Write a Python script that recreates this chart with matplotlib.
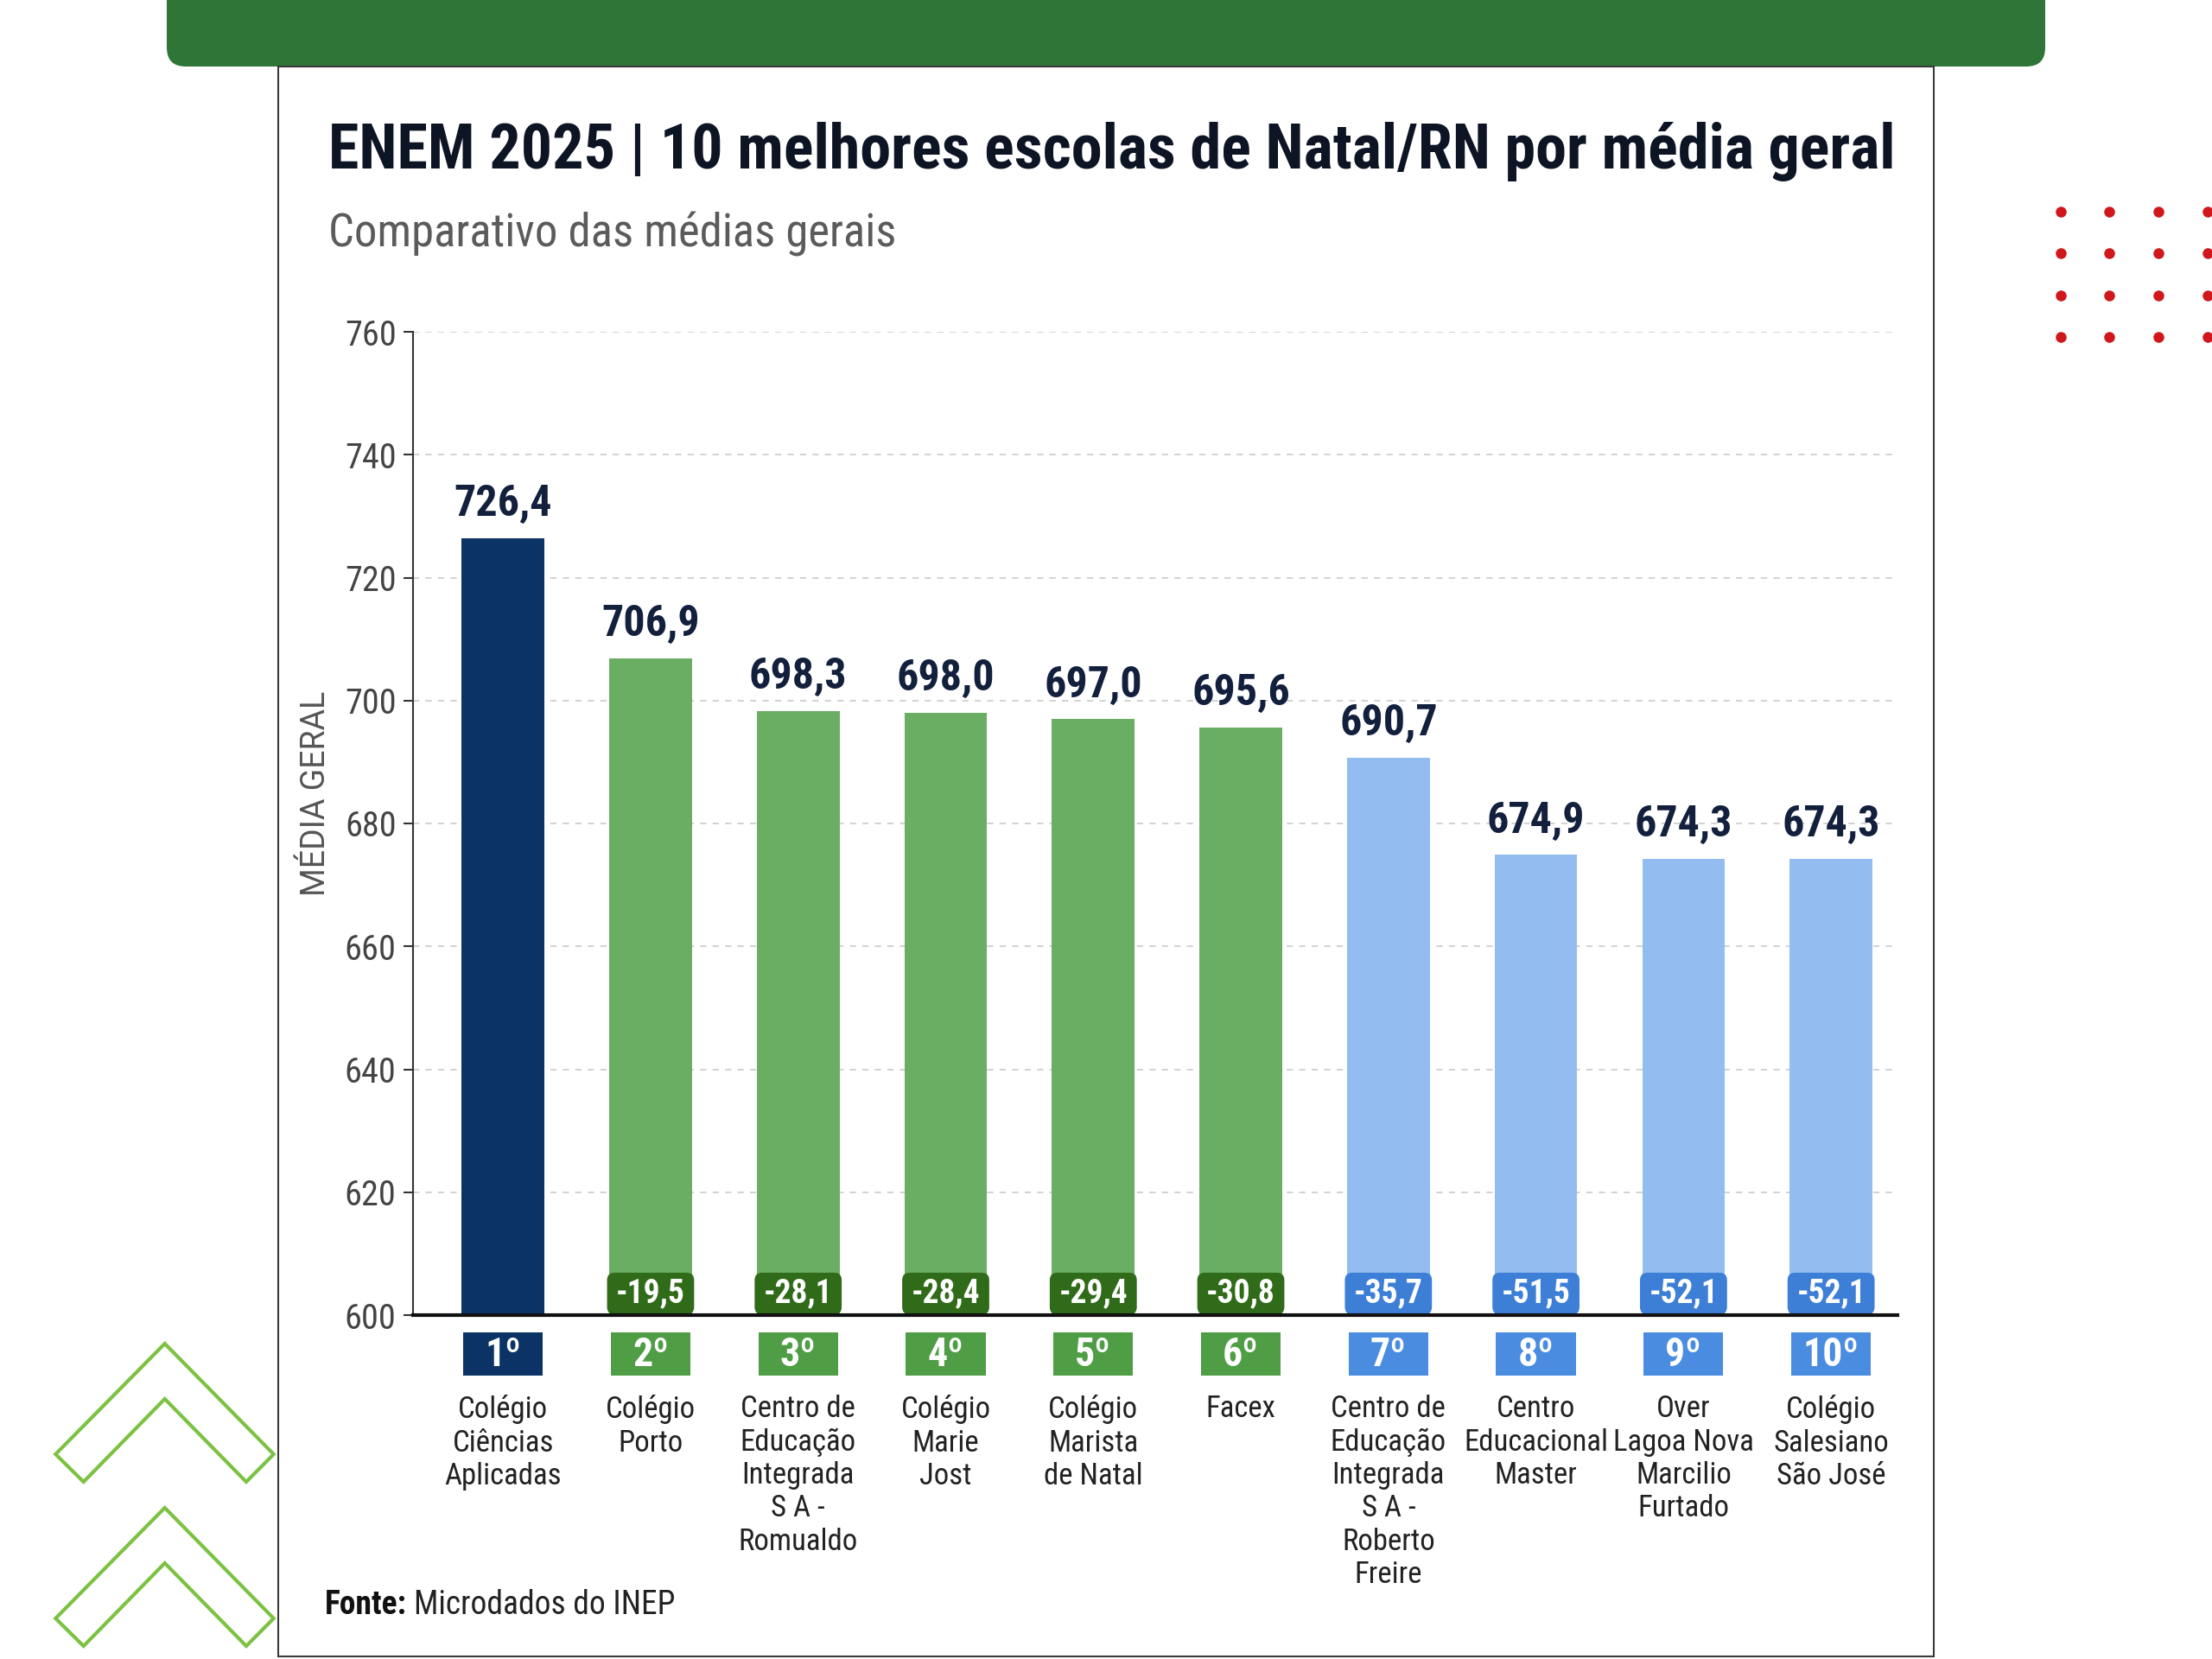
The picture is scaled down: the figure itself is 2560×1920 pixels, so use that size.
# ENEM 2025 - top 10 schools in Natal/RN
import matplotlib
matplotlib.use('Agg')
import matplotlib.pyplot as plt
from matplotlib import font_manager as fm
from matplotlib.patches import FancyBboxPatch, Rectangle, Polygon

escolas = ['Colégio\nCiências\nAplicadas', 'Colégio\nPorto',
           'Centro de\nEducação\nIntegrada\nS A -\nRomualdo',
           'Colégio\nMarie\nJost', 'Colégio\nMarista\nde Natal', 'Facex',
           'Centro de\nEducação\nIntegrada\nS A -\nRoberto\nFreire',
           'Centro\nEducacional\nMaster', 'Over\nLagoa Nova\nMarcilio\nFurtado',
           'Colégio\nSalesiano\nSão José']
medias = [726.4, 706.9, 698.3, 698.0, 697.0, 695.6, 690.7, 674.9, 674.3, 674.3]
diferencas = [None, -19.5, -28.1, -28.4, -29.4, -30.8, -35.7, -51.5, -52.1, -52.1]
grupos = ['top', 'verde', 'verde', 'verde', 'verde', 'verde', 'azul', 'azul', 'azul', 'azul']
y_ticks = [600, 620, 640, 660, 680, 700, 720, 740, 760]

cor_barra = {'top': '#0b3366', 'verde': '#6aae64', 'azul': '#93bdf0'}
cor_rank = {'top': '#0b3366', 'verde': '#4f9d45', 'azul': '#4a8de0'}
cor_badge = {'verde': '#2f6b18', 'azul': '#3d7fd6'}


def pick(*names):
    for n in names:
        try:
            fm.findfont(fm.FontProperties(family=n), fallback_to_default=False)
            return n
        except Exception:
            pass
    return 'DejaVu Sans'


NARROW = pick('Liberation Sans Narrow', 'Roboto Condensed', 'Arial Narrow', 'Liberation Sans')
PLAIN = pick('Roboto', 'Liberation Sans', 'DejaVu Sans')

W, H = 2560, 1920
fig = plt.figure(figsize=(25.6, 19.2), dpi=100)
fig.patch.set_facecolor('white')

# decoration layer in pixel coords
bg = fig.add_axes([0, 0, 1, 1], zorder=0)
bg.set_xlim(0, W)
bg.set_ylim(H, 0)
bg.axis('off')
bg.add_patch(FancyBboxPatch((193, -40), 2174, 117, boxstyle='round,pad=0,rounding_size=22',
                            fc='#2f7537', ec='none'))
bg.add_patch(Rectangle((322, 77), 1916, 1840, fc='white', ec='#3a3a3a', lw=1.5))
for xd in [2385, 2441, 2498, 2555]:
    for yd in [245, 293, 342, 390]:
        bg.plot(xd, yd, 'o', color='#d0171c', ms=9, mec='none')
for dy in [0, 190]:
    pts = [(190.7, 1555 + dy), (316.7, 1683 + dy), (285, 1715 + dy), (190.7, 1619 + dy),
           (96.7, 1715 + dy), (64.3, 1683 + dy)]
    bg.add_patch(Polygon(pts, closed=True, fill=False, ec='#7cc242', lw=3))

# main chart
ax = fig.add_axes([478 / W, 1 - 1522 / H, (2196 - 478) / W, (1522 - 384) / H], zorder=2)
ax.patch.set_alpha(0)
x = list(range(len(medias)))
ax.set_xlim(-0.61, 9.45)
ax.set_ylim(600, 760)
ax.bar(x, [m - 600 for m in medias], bottom=600, width=0.56,
       color=[cor_barra[g] for g in grupos], zorder=2)
ax.set_yticks(y_ticks)
ax.set_yticklabels([str(t) for t in y_ticks], fontsize=29, color='#444444', family=NARROW)
ax.tick_params(axis='y', length=8, width=1.5, color='#333333', pad=6)
ax.set_xticks([])
ax.grid(axis='y', color='#cfcfcf', lw=1.3, ls=(0, (4, 4)))
ax.set_axisbelow(True)
for s in ['top', 'right']:
    ax.spines[s].set_visible(False)
ax.spines['left'].set_color('#333333')
ax.spines['left'].set_linewidth(1.5)
ax.spines['bottom'].set_color('#111111')
ax.spines['bottom'].set_linewidth(3)
ax.spines['bottom'].set_zorder(5)

px_x = (2196 - 478) / (9.45 + 0.61)
px_y = (1522 - 384) / 160.0
asp = px_x / px_y

for i, m in enumerate(medias):
    ax.text(i, m + 2.2, f'{m:.1f}'.replace('.', ','), ha='center', va='bottom',
            fontsize=36, fontweight='bold', color='#12203d', family=NARROW)
    d = diferencas[i]
    if d is not None:
        ax.add_patch(FancyBboxPatch((i - 0.295, 600.1), 0.59, 6.8,
                                    boxstyle='round,pad=0,rounding_size=0.05',
                                    mutation_aspect=asp, fc=cor_badge[grupos[i]],
                                    ec='none', zorder=4, clip_on=False))
        ax.text(i, 603.5, f'{d:.1f}'.replace('.', ','), ha='center', va='center',
                fontsize=27, fontweight='bold', color='white', family=NARROW, zorder=6)
    ax.add_patch(Rectangle((i - 0.27, 590.2), 0.54, 7.0, fc=cor_rank[grupos[i]],
                           ec='none', clip_on=False, zorder=4))
    ax.text(i, 593.6, f'{i + 1}º', ha='center', va='center', fontsize=33,
            fontweight='bold', color='white', family=NARROW, zorder=6)
    ax.text(i, 587.0, escolas[i], ha='center', va='top', fontsize=25, color='#222222',
            family=NARROW, linespacing=1.2, clip_on=False)

fig.text(366 / W, 1 - 918 / H, 'MÉDIA GERAL', rotation=90, ha='center', va='center',
         fontsize=27, color='#555555', family=PLAIN)

title = fig.text(380 / W, 1 - 176 / H, 'ENEM 2025 | 10 melhores escolas de Natal/RN por média geral',
                 ha='left', va='center', fontsize=64, fontweight='bold', color='#0d1424',
                 family=NARROW)
fig.text(380 / W, 1 - 271 / H, 'Comparativo das médias gerais', ha='left', va='center',
         fontsize=38, color='#5b5b5b', family=NARROW)
fonte = fig.text(376 / W, 1 - 1858 / H, 'Fonte:', ha='left', va='center', fontsize=27,
                 fontweight='bold', color='#111111', family=NARROW)

r = fig.canvas.get_renderer()
tw = title.get_window_extent(r).width
if tw > 1812:
    title.set_fontsize(64 * 1812 / tw)
fx = fonte.get_window_extent(r).x1
fig.text((fx + 8) / W, 1 - 1858 / H, 'Microdados do INEP', ha='left', va='center',
         fontsize=27, color='#222222', family=NARROW)

fig.savefig('out.png', dpi=100)
